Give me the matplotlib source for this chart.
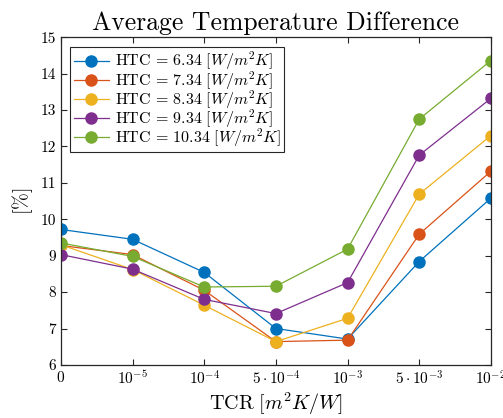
import matplotlib
matplotlib.use("Agg")
import matplotlib.pyplot as plt

plt.rcParams['font.family'] = 'serif'
plt.rcParams['font.serif'] = ['cmr10']
plt.rcParams['mathtext.fontset'] = 'cm'
plt.rcParams['axes.unicode_minus'] = False

tcr_labels = [r'$0$', r'$10^{-5}$', r'$10^{-4}$', r'$5\cdot10^{-4}$',
              r'$10^{-3}$', r'$5\cdot10^{-3}$', r'$10^{-2}$']
htc = ['6.34', '7.34', '8.34', '9.34', '10.34']

htc_634 = [9.72, 9.45, 8.54, 7.00, 6.71, 8.84, 10.58]
htc_734 = [9.28, 9.03, 8.05, 6.64, 6.68, 9.59, 11.32]
htc_834 = [9.30, 8.62, 7.64, 6.64, 7.28, 10.69, 12.30]
htc_934 = [9.03, 8.63, 7.80, 7.41, 8.26, 11.76, 13.32]
htc_1034 = [9.35, 8.98, 8.14, 8.16, 9.18, 12.75, 14.36]

series = [htc_634, htc_734, htc_834, htc_934, htc_1034]
colors = ['#0072BD', '#D95319', '#EDB120', '#7E2F8E', '#77AC30']

fig = plt.figure(figsize=(5.03, 4.18), dpi=100)
ax = fig.add_axes([0.121, 0.127, 0.855, 0.784])

x = list(range(len(tcr_labels)))
for vals, h, c in zip(series, htc, colors):
    ax.plot(x, vals, '-o', color=c, lw=0.9, markersize=8,
            label=r'$\mathrm{HTC}\,=\,' + h + r'\ [W/m^2K]$')

ax.set_xlim(0, 6)
ax.set_ylim(6, 15)
ax.set_xticks(x)
ax.set_xticklabels(tcr_labels)
ax.set_yticks(range(6, 16))
ax.tick_params(direction='in', top=True, right=True, labelsize=11,
               length=4, width=0.8, color='#262626')
for s in ax.spines.values():
    s.set_linewidth(0.9)
    s.set_color('#262626')

ax.set_title('Average Temperature Difference', fontsize=18.5, pad=5)
ax.set_xlabel(r'$\mathrm{TCR}\ [m^2K/W]$', fontsize=14.5, labelpad=2)
ax.set_ylabel(r'$[\%]$', fontsize=14.5)

leg = ax.legend(loc='upper left', fontsize=11.5, fancybox=False, framealpha=1,
                edgecolor='#262626', borderaxespad=0.6, handlelength=2.2,
                labelspacing=-0.2, borderpad=0.2, handletextpad=0.4)
leg.get_frame().set_linewidth(0.8)

fig.savefig('out.png', dpi=100)
